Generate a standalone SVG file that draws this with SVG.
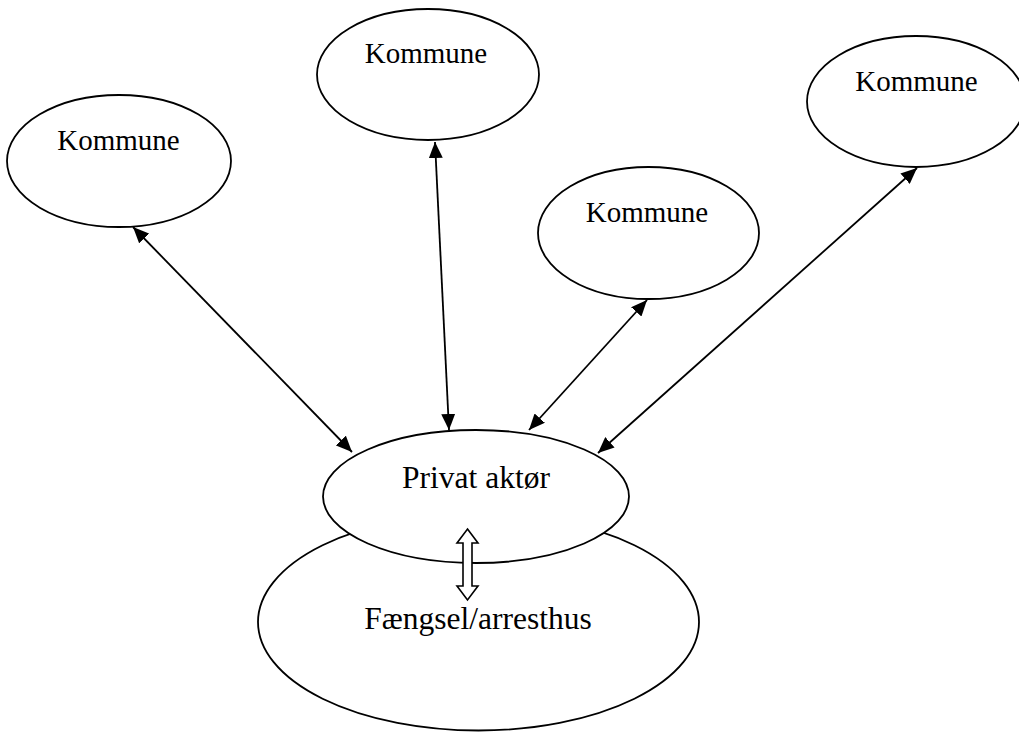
<svg xmlns="http://www.w3.org/2000/svg" width="1019" height="733" viewBox="0 0 1019 733">
<style>
.node{fill:#fff;stroke:#000;stroke-width:1.8}
.lbl{font-family:"Liberation Serif","Times New Roman",serif;fill:#000;text-anchor:middle}
.k{font-size:29px}
.b{font-size:31.5px}
.conn{stroke:#000;stroke-width:1.8;fill:none;marker-start:url(#ah);marker-end:url(#ah)}
</style>
<defs>
<marker id="ah" markerUnits="userSpaceOnUse" markerWidth="17" markerHeight="14" refX="16" refY="7" orient="auto-start-reverse">
<path d="M0,0 L16,7 L0,14 Z" fill="#000"/>
</marker>
</defs>
<rect width="1019" height="733" fill="#fff"/>
<g id="node-faengsel">
<ellipse class="node" cx="478.5" cy="622" rx="220.5" ry="108.5"/>
<text class="lbl b" x="478" y="629">Fængsel/arresthus</text>
</g>
<g id="node-privat">
<ellipse class="node" cx="476" cy="496.5" rx="153" ry="66.5"/>
<text class="lbl b" x="476" y="488">Privat aktør</text>
</g>
<g id="node-kommune1">
<ellipse class="node" cx="119" cy="161" rx="112" ry="66"/>
<text class="lbl k" x="118.5" y="150">Kommune</text>
</g>
<g id="node-kommune2">
<ellipse class="node" cx="428" cy="74.5" rx="111" ry="65.5"/>
<text class="lbl k" x="426" y="63">Kommune</text>
</g>
<g id="node-kommune3">
<ellipse class="node" cx="648.5" cy="233" rx="110.5" ry="66"/>
<text class="lbl k" x="647" y="222">Kommune</text>
</g>
<g id="node-kommune4">
<ellipse class="node" cx="916" cy="101.5" rx="109" ry="65.5"/>
<text class="lbl k" x="916.5" y="91">Kommune</text>
</g>
<g id="connectors">
<line class="conn" x1="133" y1="227" x2="352" y2="452"/>
<line class="conn" x1="435" y1="142" x2="449" y2="430"/>
<line class="conn" x1="647" y1="300" x2="529" y2="430"/>
<line class="conn" x1="917" y1="168" x2="598" y2="453"/>
<polygon points="467.5,529 478,543 472,543 472,586 478,586 467.5,600 457,586 463,586 463,543 457,543" fill="#fff" stroke="#000" stroke-width="1.6" stroke-linejoin="miter"/>
</g>
</svg>
